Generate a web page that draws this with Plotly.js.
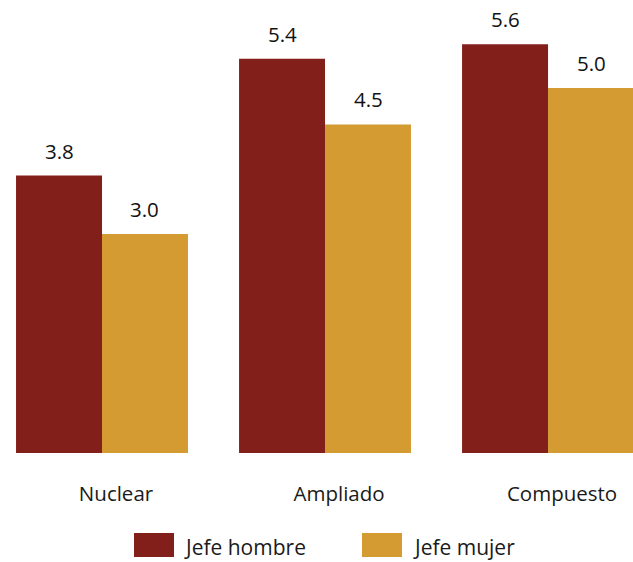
<!DOCTYPE html>
<html>
<head>
<meta charset="utf-8">
<script src="https://cdn.plot.ly/plotly-3.0.1.min.js"></script>
<style>html,body{margin:0;padding:0;background:#fff;}#chart{width:633px;height:562px;}</style>
</head>
<body>
<div id="chart"></div>
<script>
const categories = ["Nuclear", "Ampliado", "Compuesto"];
const seriesNames = ["Jefe hombre", "Jefe mujer"];
const jefeHombre = [3.8, 5.4, 5.6];
const jefeMujer = [3.0, 4.5, 5.0];
const colors = ["#821F1A", "#D39B32"];

const FONT = "Open Sans, sans-serif";
const bargap = 0.229;
const seriesValues = [jefeHombre, jefeMujer];

const traces = seriesValues.map((vals, s) => ({
  type: "bar",
  name: seriesNames[s],
  x: categories,
  y: vals,
  marker: {color: colors[s], line: {width: 0}},
  hoverinfo: "x+y+name"
}));

const barW = (1 - bargap) / seriesValues.length;
const annotations = [];
seriesValues.forEach((vals, s) => {
  vals.forEach((v, i) => {
    annotations.push({
      x: i + (s - (seriesValues.length - 1) / 2) * barW,
      y: v,
      xref: "x", yref: "y",
      text: v.toFixed(1),
      showarrow: false,
      yanchor: "middle",
      yshift: 25,
      font: {family: FONT, size: 20.5, color: "#111"}
    });
  });
});

// legend (large swatches like the original)
const legendX = [[134/633, 174/633], [362/633, 402/633]];
const legendTextX = [182/633, 411/633];
const shapes = [];
seriesNames.forEach((n, s) => {
  shapes.push({
    type: "rect", xref: "paper", yref: "paper",
    x0: legendX[s][0], x1: legendX[s][1],
    y0: -(557-453)/453, y1: -(533-453)/453,
    fillcolor: colors[s], line: {width: 0}
  });
  annotations.push({
    xref: "paper", yref: "paper",
    x: legendTextX[s], y: -(547-453)/453,
    xanchor: "left", yanchor: "middle",
    text: n, showarrow: false,
    font: {family: FONT, size: 21, color: "#1a1a1a"}
  });
});

const layout = {
  width: 633, height: 562,
  margin: {l: 0, r: 0, t: 0, b: 109},
  paper_bgcolor: "#fff", plot_bgcolor: "#fff",
  barmode: "group",
  bargap: bargap,
  bargroupgap: 0,
  showlegend: false,
  font: {family: FONT, size: 20, color: "#1a1a1a"},
  xaxis: {
    type: "category",
    range: [-0.4574, 2.381],
    showgrid: false, zeroline: false, showline: false,
    ticks: "",
    ticklabelshift: 14,
    ticklabelstandoff: 26,
    tickfont: {family: FONT, size: 20.5, color: "#1a1a1a"}
  },
  yaxis: {
    range: [0, 6.205],
    visible: false,
    showgrid: false, zeroline: false
  },
  annotations: annotations,
  shapes: shapes
};

Plotly.newPlot("chart", traces, layout, {displayModeBar: false, staticPlot: true});
</script>
</body>
</html>
